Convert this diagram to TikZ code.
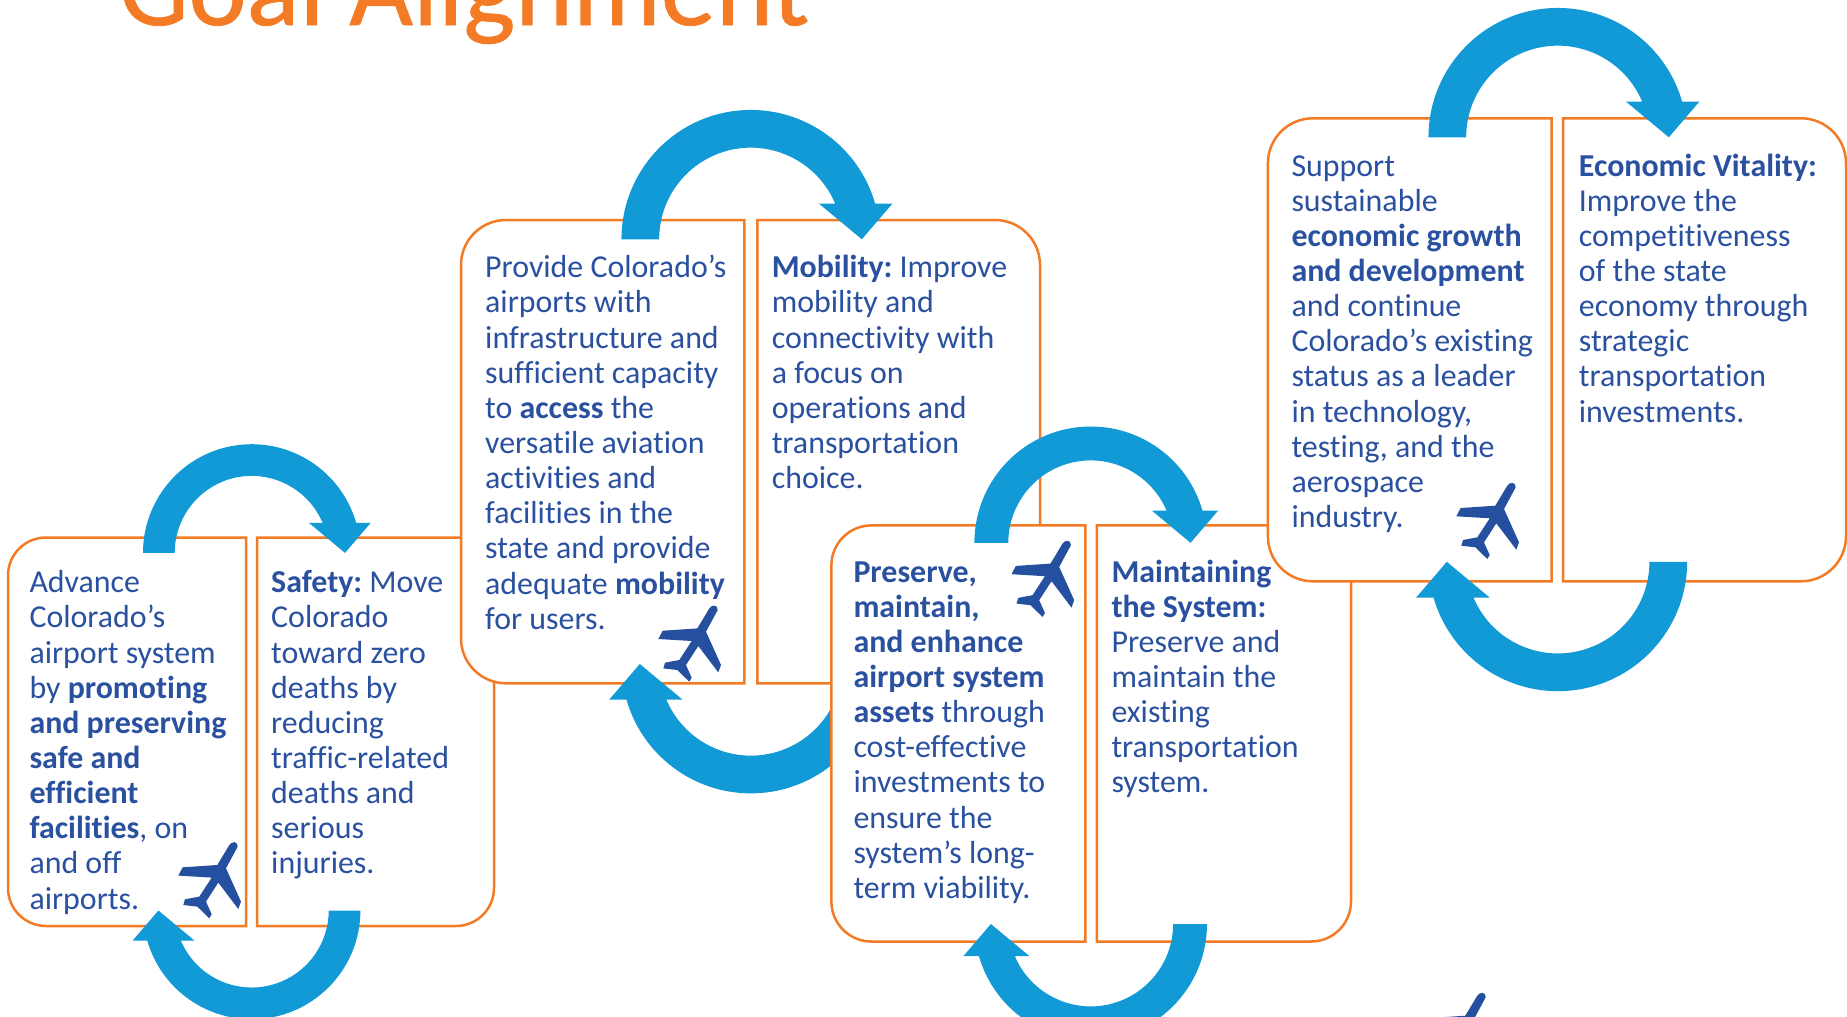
\documentclass[tikz,border=0pt]{standalone}
\usepackage{fontspec}
\setmainfont{Carlito}[Ligatures=NoCommon]
\newfontfamily\headingfont{Carlito}[Ligatures=NoCommon,FakeBold=0.7]
\frenchspacing
\definecolor{boxorange}{HTML}{F47B26}
\definecolor{arrowblue}{HTML}{129AD6}
\definecolor{textblue}{HTML}{2A50A0}
\definecolor{planeblue}{HTML}{25509F}
\tikzset{
  panel/.style={draw=boxorange,line width=2.5pt,fill=white},
  goaltext/.style={anchor=north west,inner sep=0pt,outer sep=0pt,align=left,text=textblue,
    font=\fontsize{31.9}{35.15}\selectfont},
  titletext/.style={anchor=base west,inner sep=0pt,text=boxorange,font=\headingfont\fontsize{110}{118}\selectfont},
}
% left panel: x1 x2 y1 y2 r ; right panel likewise
\newcommand{\leftpanel}[5]{\draw[panel] (#2,-#3) [rounded corners=#5pt] -- (#1,-#3) -- (#1,-#4) [sharp corners] -- (#2,-#4) -- cycle;}
\newcommand{\rightpanel}[5]{\draw[panel] (#1,-#3) [rounded corners=#5pt] -- (#2,-#3) -- (#2,-#4) [sharp corners] -- (#1,-#4) -- cycle;}
% cx cy scale rotation
\newcommand{\loopshaft}[4]{\begin{scope}[shift={(#1,-#2)},rotate=#4,scale=#3]
  \fill[arrowblue] (-108.7,0) arc[start angle=180,end angle=16.02,radius=108.7]
    -- (119,30) -- (93.3,0) -- (57.3,30) -- (70.9,30)
    arc[start angle=22.93,end angle=180,radius=77] -- cycle;
\end{scope}}
\newcommand{\jetplane}[2]{\begin{scope}[shift={(#1,-#2)}]
  \fill[planeblue] (-5.7,-2.7) .. controls (-3,1.2) and (2.5,1.5) .. (2.7,-4.3)
   -- (-9,-26) -- (6,-59.3) -- (3.3,-66.7) -- (-16.7,-40.3) -- (-29,-59.3) -- (-23.3,-72)
   -- (-25.7,-76) -- (-37.7,-64.3) -- (-51.7,-62.7) -- (-50,-57) -- (-35.7,-54.3)
   -- (-23.3,-35.3) -- (-56.7,-33.3) -- (-52.3,-25) -- (-17.7,-22.7) -- cycle;
\end{scope}}
\newcommand{\goalnode}[4]{\node[goaltext] (#1) at (#2,-#3+29) {\rule{0pt}{30pt}#4};}
\begin{document}
\begin{tikzpicture}[x=1pt,y=1pt]
\clip (0,0) rectangle (1847,-1017);
\fill[white] (0,0) rectangle (1847,-1017);
\node[titletext] (title) at (119,-25) {Goal Alignment};
% Safety
\leftpanel{8}{246}{537.5}{926}{38}
\rightpanel{257}{494}{537.5}{926}{38}
\loopshaft{251.7}{552.9}{1}{0}
\loopshaft{251.7}{910.5}{1}{180}
\jetplane{235}{842.3}
\goalnode{safetyL}{29.5}{591.7}{Advance\\Colorado’s\\airport system\\by \textbf{promoting}\\\textbf{and preserving}\\\textbf{safe and}\\\textbf{efficient}\\\textbf{facilities}, on\\and off\\airports.}
\goalnode{safetyR}{271.2}{591.7}{\textbf{Safety:} Move\\Colorado\\toward zero\\deaths by\\reducing\\traffic-related\\deaths and\\serious\\injuries.}
% Mobility
\leftpanel{461}{744.3}{220}{683.3}{45}
\rightpanel{757.3}{1040}{220}{683.3}{45}
\loopshaft{750.8}{239.3}{1.19}{0}
\loopshaft{750.8}{664}{1.19}{180}
\jetplane{715}{605.7}
\goalnode{mobilityL}{485.2}{276.7}{Provide Colorado’s\\airports with\\infrastructure and\\sufficient capacity\\to \textbf{access} the\\versatile aviation\\activities and\\facilities in the\\state and provide\\adequate \textbf{mobility}\\for users.}
\goalnode{mobilityR}{771.8}{276.7}{\textbf{Mobility:} Improve\\mobility and\\connectivity with\\a focus on\\operations and\\transportation\\choice.}
% Maintaining
\leftpanel{831.4}{1085.4}{525.4}{941.5}{40}
\rightpanel{1096.8}{1351}{525.4}{941.5}{40}
\loopshaft{1090.7}{542.8}{1.07}{0}
\loopshaft{1090.7}{924}{1.07}{180}
\jetplane{1068.2}{540.9}
\goalnode{systemL}{853.5}{581}{\textbf{Preserve,}\\\textbf{maintain,}\\\textbf{and enhance}\\\textbf{airport system}\\\textbf{assets} through\\cost-effective\\investments to\\ensure the\\system’s long-\\term viability.}
\goalnode{systemR}{1111.5}{581}{\textbf{Maintaining}\\\textbf{the System:}\\Preserve and\\maintain the\\existing\\transportation\\system.}
% Economic vitality
\leftpanel{1267.9}{1551.6}{118.3}{581.3}{45}
\rightpanel{1563}{1846}{118.3}{581.3}{45}
\loopshaft{1557.8}{137.3}{1.19}{0}
\loopshaft{1557.8}{561.8}{1.19}{180}
\jetplane{1513}{483}
\goalnode{economyL}{1291.5}{175}{Support\\sustainable\\\textbf{economic growth}\\\textbf{and development}\\and continue\\Colorado’s existing\\status as a leader\\in technology,\\testing, and the\\aerospace\\industry.}
\goalnode{economyR}{1578.9}{175}{\textbf{Economic Vitality:}\\Improve the\\competitiveness\\of the state\\economy through\\strategic\\transportation\\investments.}
\jetplane{1483}{993}
\end{tikzpicture}
\end{document}
